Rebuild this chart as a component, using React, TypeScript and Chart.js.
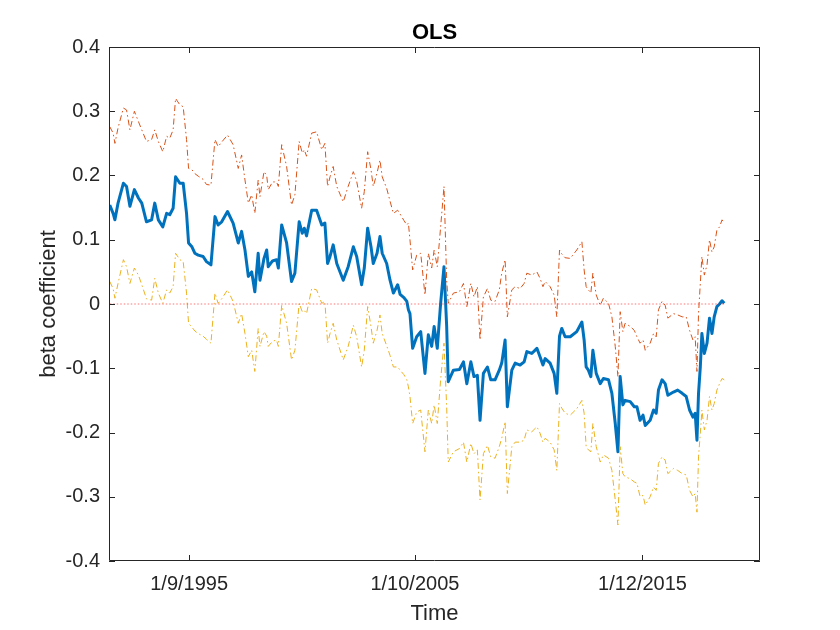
import { Chart, registerables } from 'chart.js';
import { useEffect, useRef } from 'react';

Chart.register(...registerables);

// Sample dates (decimal years)
const dates = [
    1992.12, 1992.27, 1992.35, 1992.49, 1992.73, 1992.87, 1993.02, 1993.22, 1993.4, 1993.55,
    1993.76, 1993.99, 1994.13, 1994.29, 1994.49, 1994.66, 1994.8, 1994.95, 1995.06, 1995.25,
    1995.4, 1995.55, 1995.64, 1995.79, 1995.92, 1996.07, 1996.29, 1996.44, 1996.64, 1996.82,
    1996.96, 1997.12, 1997.38, 1997.63, 1997.86, 1998.01, 1998.16, 1998.31, 1998.46, 1998.6,
    1998.75, 1998.83, 1999.01, 1999.13, 1999.2, 1999.39, 1999.57, 1999.65, 1999.8, 2000.02,
    2000.24, 2000.39, 2000.58, 2000.72, 2000.81, 2000.91, 2001.14, 2001.36, 2001.59, 2001.73,
    2001.85, 2001.96, 2002.1, 2002.26, 2002.55, 2002.77, 2003.0, 2003.15, 2003.37, 2003.49,
    2003.64, 2003.79, 2003.89, 2004.06, 2004.19, 2004.29, 2004.49, 2004.64, 2004.79, 2004.98,
    2005.09, 2005.26, 2005.39, 2005.46, 2005.53, 2005.65, 2005.83, 2006.01, 2006.2, 2006.35,
    2006.5, 2006.61, 2006.75, 2006.9, 2007.05, 2007.17, 2007.24, 2007.47, 2007.74, 2007.92,
    2008.07, 2008.25, 2008.39, 2008.54, 2008.66, 2008.81, 2008.99, 2009.14, 2009.33, 2009.52,
    2009.63, 2009.78, 2009.88, 2010.08, 2010.23, 2010.45, 2010.63, 2010.75, 2010.97, 2011.2,
    2011.34, 2011.47, 2011.57, 2011.79, 2011.97, 2012.09, 2012.21, 2012.31, 2012.46, 2012.69,
    2012.98, 2013.21, 2013.31, 2013.4, 2013.5, 2013.61, 2013.7, 2013.85, 2014.03, 2014.17,
    2014.4, 2014.55, 2014.7, 2014.82, 2014.92, 2015.04, 2015.14, 2015.37, 2015.55, 2015.67,
    2015.81, 2015.94, 2016.04, 2016.26, 2016.41, 2016.53, 2016.63, 2016.79, 2016.93, 2017.05,
    2017.3, 2017.49, 2017.69, 2017.87, 2018.02, 2018.17, 2018.27, 2018.35, 2018.42, 2018.5,
    2018.57, 2018.68, 2018.8, 2018.91, 2019.02, 2019.12, 2019.24, 2019.36, 2019.47, 2019.57,
];

// OLS beta estimate
const beta = [
    0.154, 0.141, 0.131, 0.157, 0.188, 0.183, 0.152, 0.178, 0.165, 0.157,
    0.128, 0.131, 0.157, 0.131, 0.12, 0.141, 0.139, 0.149, 0.198, 0.188,
    0.188, 0.141, 0.095, 0.089, 0.079, 0.076, 0.074, 0.066, 0.061, 0.136,
    0.123, 0.128, 0.144, 0.126, 0.095, 0.113, 0.084, 0.043, 0.05, 0.019,
    0.079, 0.037, 0.071, 0.084, 0.058, 0.067, 0.069, 0.056, 0.123, 0.095,
    0.035, 0.048, 0.128, 0.11, 0.118, 0.106, 0.146, 0.146, 0.123, 0.126,
    0.063, 0.074, 0.092, 0.063, 0.037, 0.058, 0.089, 0.074, 0.03, 0.056,
    0.118, 0.089, 0.063, 0.079, 0.105, 0.079, 0.063, 0.037, 0.017, 0.03,
    0.015, 0.01, 0.004, -0.009, -0.015, -0.069, -0.051, -0.043, -0.108, -0.048,
    -0.066, -0.035, -0.069, 0.001, 0.058, -0.035, -0.121, -0.103, -0.102, -0.09,
    -0.124, -0.09, -0.113, -0.111, -0.181, -0.108, -0.098, -0.118, -0.118, -0.103,
    -0.092, -0.056, -0.16, -0.103, -0.092, -0.095, -0.09, -0.074, -0.077, -0.069,
    -0.082, -0.095, -0.085, -0.092, -0.108, -0.139, -0.05, -0.038, -0.051, -0.051,
    -0.043, -0.028, -0.056, -0.098, -0.103, -0.113, -0.072, -0.108, -0.124, -0.116,
    -0.118, -0.139, -0.186, -0.23, -0.113, -0.157, -0.15, -0.152, -0.16, -0.16,
    -0.181, -0.173, -0.189, -0.181, -0.165, -0.17, -0.134, -0.118, -0.124, -0.142,
    -0.137, -0.134, -0.139, -0.144, -0.165, -0.176, -0.17, -0.212, -0.139, -0.098,
    -0.046, -0.077, -0.061, -0.022, -0.046, -0.02, -0.004, 0.0, 0.005, 0.001,
];

// Upper confidence band
const upper = [
    0.276, 0.266, 0.25, 0.274, 0.305, 0.302, 0.271, 0.3, 0.284, 0.271,
    0.253, 0.256, 0.271, 0.253, 0.237, 0.261, 0.258, 0.271, 0.32, 0.31,
    0.307, 0.256, 0.211, 0.209, 0.203, 0.199, 0.194, 0.186, 0.185, 0.256,
    0.245, 0.252, 0.263, 0.248, 0.211, 0.232, 0.193, 0.157, 0.17, 0.141,
    0.193, 0.167, 0.206, 0.2, 0.178, 0.19, 0.19, 0.183, 0.248, 0.214,
    0.154, 0.17, 0.253, 0.235, 0.24, 0.23, 0.266, 0.268, 0.24, 0.25,
    0.183, 0.198, 0.214, 0.183, 0.159, 0.183, 0.206, 0.191, 0.149, 0.175,
    0.237, 0.209, 0.183, 0.204, 0.224, 0.198, 0.18, 0.16, 0.141, 0.146,
    0.14, 0.13, 0.123, 0.126, 0.1, 0.053, 0.076, 0.079, 0.014, 0.079,
    0.056, 0.084, 0.058, 0.12, 0.183, 0.037, 0.001, 0.017, 0.019, 0.032,
    -0.004, 0.032, 0.011, 0.027, -0.056, 0.011, 0.024, 0.006, 0.004, 0.022,
    0.048, 0.069, -0.02, 0.022, 0.027, 0.024, 0.032, 0.048, 0.045, 0.05,
    0.04, 0.027, 0.035, 0.027, 0.014, -0.02, 0.084, 0.078, 0.072, 0.071,
    0.084, 0.097, 0.053, 0.027, 0.022, 0.017, 0.048, 0.014, -0.002, 0.009,
    0.001, -0.02, -0.066, -0.113, -0.012, -0.043, -0.03, -0.035, -0.041, -0.051,
    -0.061, -0.056, -0.072, -0.061, -0.046, -0.051, -0.009, 0.004, -0.002, -0.022,
    -0.015, -0.017, -0.02, -0.02, -0.041, -0.056, -0.051, -0.105, -0.015, 0.032,
    0.074, 0.045, 0.061, 0.1, 0.081, 0.089, 0.115, 0.12, 0.131, 0.126,
];

// Lower confidence band
const lower = [
    0.035, 0.024, 0.009, 0.032, 0.069, 0.058, 0.032, 0.056, 0.045, 0.03,
    0.008, 0.006, 0.04, 0.017, 0.001, 0.022, 0.017, 0.027, 0.079, 0.069,
    0.066, 0.017, -0.03, -0.036, -0.042, -0.046, -0.05, -0.055, -0.061, 0.017,
    0.001, 0.008, 0.022, 0.004, -0.03, -0.015, -0.046, -0.082, -0.072, -0.105,
    -0.038, -0.066, -0.043, -0.05, -0.066, -0.058, -0.056, -0.066, -0.002, -0.03,
    -0.087, -0.072, 0.001, -0.012, -0.01, -0.015, 0.024, 0.022, 0.001, 0.004,
    -0.061, -0.046, -0.03, -0.056, -0.087, -0.066, -0.033, -0.051, -0.098, -0.072,
    -0.004, -0.035, -0.061, -0.041, -0.017, -0.046, -0.065, -0.08, -0.098, -0.098,
    -0.103, -0.11, -0.118, -0.129, -0.144, -0.186, -0.168, -0.165, -0.23, -0.165,
    -0.186, -0.157, -0.186, -0.118, -0.061, -0.16, -0.246, -0.23, -0.225, -0.215,
    -0.246, -0.217, -0.233, -0.227, -0.305, -0.233, -0.22, -0.238, -0.24, -0.222,
    -0.209, -0.183, -0.295, -0.222, -0.215, -0.215, -0.212, -0.196, -0.199, -0.191,
    -0.201, -0.215, -0.209, -0.215, -0.227, -0.259, -0.155, -0.162, -0.17, -0.173,
    -0.163, -0.15, -0.17, -0.222, -0.227, -0.23, -0.186, -0.222, -0.246, -0.235,
    -0.24, -0.259, -0.305, -0.344, -0.222, -0.264, -0.269, -0.272, -0.277, -0.279,
    -0.3, -0.298, -0.313, -0.3, -0.285, -0.29, -0.248, -0.238, -0.243, -0.264,
    -0.256, -0.259, -0.264, -0.266, -0.29, -0.3, -0.295, -0.324, -0.238, -0.201,
    -0.165, -0.196, -0.181, -0.144, -0.165, -0.155, -0.134, -0.124, -0.116, -0.118,
];

// x axis ticks (dates shown as d/m/yyyy)
const tickDates = [1995.667, 2005.75, 2015.917];
const tickLabels = ['1/9/1995', '1/10/2005', '1/12/2015'];

const FONT = '"Liberation Sans", Arial, Helvetica, sans-serif';
const AXIS_COLOR = '#262626';

// Draws the MATLAB-like box, inward ticks and the title / axis labels
const matlabAxes = {
    id: 'matlabAxes',
    afterDraw(chart: Chart) {
        const { ctx, chartArea } = chart;
        const { left, right, top, bottom } = chartArea;
        const xs = chart.scales.x;
        const ys = chart.scales.y;
        ctx.save();
        ctx.strokeStyle = AXIS_COLOR;
        ctx.lineWidth = 1;
        ctx.beginPath();
        ctx.rect(left + 0.5, top + 0.5, right - left - 1, bottom - top - 1);
        for (const t of ys.ticks) {
            const y = Math.round(ys.getPixelForValue(t.value)) + 0.5;
            ctx.moveTo(left, y);
            ctx.lineTo(left + 6, y);
            ctx.moveTo(right, y);
            ctx.lineTo(right - 6, y);
        }
        for (const v of tickDates) {
            const x = Math.round(xs.getPixelForValue(v)) + 0.5;
            ctx.moveTo(x, bottom);
            ctx.lineTo(x, bottom - 6);
            ctx.moveTo(x, top);
            ctx.lineTo(x, top + 6);
        }
        ctx.stroke();

        const cx = (left + right) / 2;
        ctx.fillStyle = '#000';
        ctx.textAlign = 'center';
        ctx.textBaseline = 'alphabetic';
        ctx.font = `bold 22px ${FONT}`;
        ctx.fillText('OLS', cx, top - 8);

        ctx.fillStyle = AXIS_COLOR;
        ctx.font = `22px ${FONT}`;
        ctx.fillText('Time', cx, bottom + 59);

        ctx.translate(55, (top + bottom) / 2);
        ctx.rotate(-Math.PI / 2);
        ctx.fillText('beta coefficient', 0, 0);
        ctx.restore();
    },
};

function OlsChart() {
    const chartRef = useRef<HTMLCanvasElement | null>(null);
    const chartInstanceRef = useRef<Chart | null>(null);

    useEffect(() => {
        if (!chartRef.current) return;
        const ctx = chartRef.current.getContext('2d');
        if (!ctx) return;

        const toPoints = (vals: number[]) => dates.map((d, i) => ({ x: d, y: vals[i] }));

        chartInstanceRef.current = new Chart(ctx, {
            type: 'line',
            data: {
                datasets: [
                    {
                        label: 'zero',
                        data: [
                            { x: dates[0], y: 0 },
                            { x: dates[dates.length - 1], y: 0 },
                        ],
                        borderColor: 'rgba(255, 0, 0, 0.55)',
                        borderWidth: 1,
                        borderDash: [1.5, 2],
                        pointRadius: 0,
                    },
                    {
                        label: 'upper',
                        data: toPoints(upper),
                        borderColor: '#D95319',
                        borderWidth: 1,
                        borderDash: [6, 3, 1.5, 3],
                        pointRadius: 0,
                    },
                    {
                        label: 'lower',
                        data: toPoints(lower),
                        borderColor: '#EDB120',
                        borderWidth: 1,
                        borderDash: [6, 3, 1.5, 3],
                        pointRadius: 0,
                    },
                    {
                        label: 'beta',
                        data: toPoints(beta),
                        borderColor: '#0072BD',
                        borderWidth: 3,
                        pointRadius: 0,
                        borderJoinStyle: 'round',
                    },
                ],
            },
            options: {
                animation: false,
                responsive: false,
                devicePixelRatio: 1,
                layout: { padding: { top: 47, right: 80, bottom: 0, left: 0 } },
                plugins: {
                    legend: { display: false },
                    tooltip: { enabled: false },
                    title: { display: false },
                },
                scales: {
                    x: {
                        type: 'linear',
                        min: 1992.086,
                        max: 2021.166,
                        grid: { display: false, drawTicks: false },
                        border: { display: false },
                        afterFit: (scale) => {
                            scale.height = 69;
                        },
                        afterBuildTicks: (scale) => {
                            scale.ticks = tickDates.map((v) => ({ value: v }));
                        },
                        ticks: {
                            autoSkip: false,
                            maxRotation: 0,
                            padding: 11,
                            color: AXIS_COLOR,
                            font: { family: FONT, size: 20 },
                            callback: (_v, i) => tickLabels[i],
                        },
                    },
                    y: {
                        min: -0.4,
                        max: 0.4,
                        grid: { display: false, drawTicks: false },
                        border: { display: false },
                        afterFit: (scale) => {
                            scale.width = 109;
                        },
                        ticks: {
                            stepSize: 0.1,
                            padding: 9,
                            color: AXIS_COLOR,
                            font: { family: FONT, size: 20 },
                            callback: (v) => String(parseFloat(Number(v).toFixed(1))),
                        },
                    },
                },
            },
            plugins: [matlabAxes],
        });

        return () => {
            if (chartInstanceRef.current) {
                chartInstanceRef.current.destroy();
                chartInstanceRef.current = null;
            }
        };
    }, []);

    return (
        <div style={{ position: 'fixed', left: 0, top: 0, width: 840, height: 630, background: '#fff' }}>
            <canvas ref={chartRef} width='840' height='630'></canvas>
        </div>
    );
}

export default function App() {
    return <OlsChart />;
}
